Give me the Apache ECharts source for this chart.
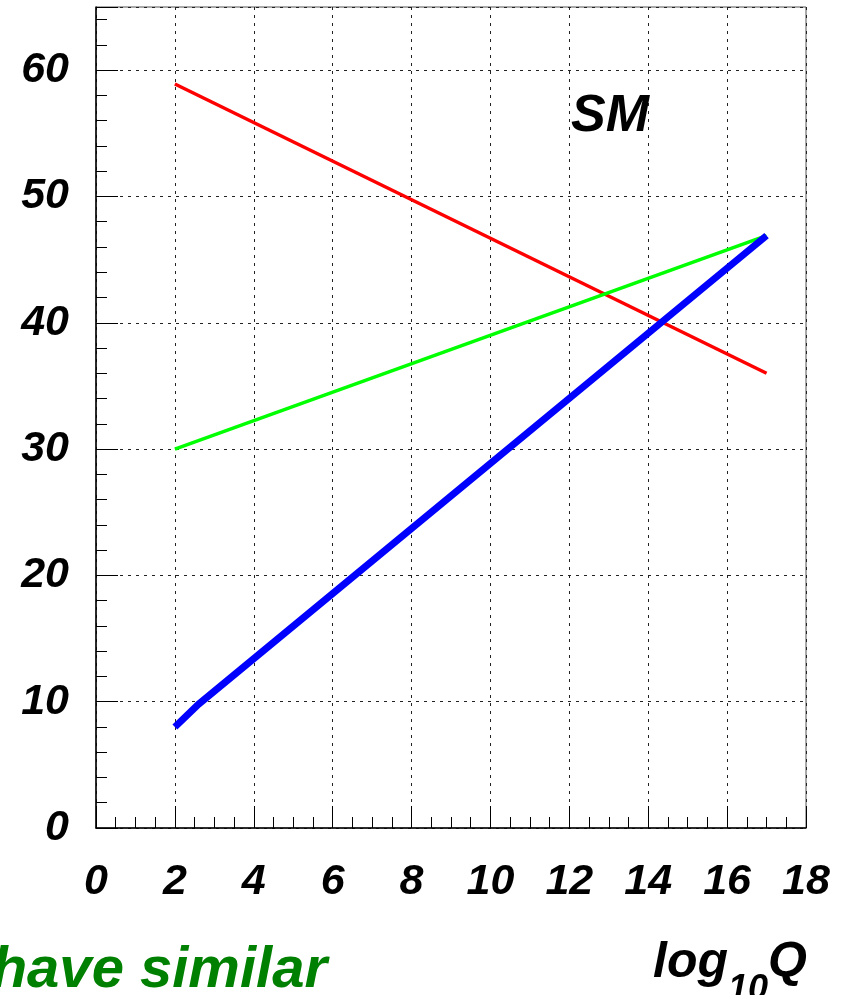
<!DOCTYPE html>
<html>
<head>
<meta charset="utf-8">
<script src="https://cdn.jsdelivr.net/npm/echarts@6/dist/echarts.min.js"></script>
<style>
html,body{margin:0;padding:0;background:#fff;}
#main{width:841px;height:995px;}
</style>
</head>
<body>
<div id="main"></div>
<script>
// Data
const xTicks = [0, 2, 4, 6, 8, 10, 12, 14, 16, 18];
const yTicks = [0, 10, 20, 30, 40, 50, 60];
const redX = [2, 17];
const redY = [58.9, 36.0];
const greenX = [2, 17];
const greenY = [30.0, 46.9];
const blueX = [2, 2.6, 17];
const blueY = [8.0, 9.8, 46.9];
const modelLabel = 'SM';
const bottomText = 'have similar';

const FONT = '"Liberation Sans", Arial, Helvetica, sans-serif';
const pairs = (xs, ys) => xs.map((x, i) => [x, ys[i]]);

const chart = echarts.init(document.getElementById('main'), null, {renderer: 'canvas'});
const labelStyle = {fontFamily: FONT, fontWeight: 'bold', fontStyle: 'italic', fontSize: 43, color: '#000'};

const option = {
  backgroundColor: '#fff',
  animation: false,
  grid: {left: 96, right: 35, top: 7, bottom: 167, show: true, borderColor: '#555', borderWidth: 1, backgroundColor: 'transparent'},
  xAxis: [{
    type: 'value', min: xTicks[0], max: xTicks[xTicks.length - 1], interval: 2,
    axisLine: {show: true, lineStyle: {color: '#000', width: 1.5}},
    axisTick: {show: true, inside: true, length: 22, lineStyle: {color: '#000', width: 1}},
    minorTick: {show: true, splitNumber: 4, length: 11, lineStyle: {color: '#000', width: 1}},
    splitLine: {show: true, lineStyle: {color: '#222', width: 1, type: [3, 5]}},
    axisLabel: Object.assign({margin: 33, formatter: v => xTicks.includes(v) ? String(v) : ''}, labelStyle)
  }],
  yAxis: [{
    type: 'value', min: 0, max: 65, interval: 10,
    axisLine: {show: true, lineStyle: {color: '#000', width: 1.5}},
    axisTick: {show: true, inside: true, length: 22, lineStyle: {color: '#000', width: 1}},
    splitLine: {show: true, lineStyle: {color: '#222', width: 1, type: [3, 5]}},
    axisLabel: Object.assign({margin: 27, showMaxLabel: true, formatter: v => yTicks.includes(v) ? String(v) : ''}, labelStyle)
  }, {
    type: 'value', min: 0, max: 65, interval: 2, position: 'left',
    axisLine: {show: false},
    axisTick: {show: true, inside: true, length: 11, lineStyle: {color: '#000', width: 1}},
    splitLine: {show: false},
    axisLabel: {show: false}
  }],
  series: [
    {type: 'line', name: 'red', data: pairs(redX, redY), showSymbol: false, symbol: 'none',
     lineStyle: {color: '#ff0000', width: 3.5}, z: 3},
    {type: 'line', name: 'green', data: pairs(greenX, greenY), showSymbol: false, symbol: 'none',
     lineStyle: {color: '#00ff00', width: 3.5}, z: 3},
    {type: 'line', name: 'blue', data: pairs(blueX, blueY), showSymbol: false, symbol: 'none',
     lineStyle: {color: '#0000ff', width: 7, join: 'miter'}, z: 4}
  ],
  graphic: [
    {type: 'text', left: 571, top: 91, z: 10,
     style: {text: modelLabel, font: 'italic bold 52px ' + FONT, fill: '#000'}},
    {type: 'text', x: 327, y: 1000, z: 10,
     style: {text: bottomText, font: 'italic bold 58px ' + FONT, fill: '#008000', textAlign: 'right', textVerticalAlign: 'bottom'}},
    {type: 'text', x: 807, y: 988, z: 10,
     style: {text: '{a|log}{b|10}{a|Q}', textAlign: 'right', textVerticalAlign: 'bottom',
       rich: {
         a: {fontFamily: FONT, fontWeight: 'bold', fontStyle: 'italic', fontSize: 50, fill: '#000', color: '#000', verticalAlign: 'bottom'},
         b: {fontFamily: FONT, fontWeight: 'bold', fontStyle: 'italic', fontSize: 36, fill: '#000', color: '#000', verticalAlign: 'bottom', padding: [0, 0, -20, 0]}
       }}}
  ]
};
chart.setOption(option);
</script>
</body>
</html>
